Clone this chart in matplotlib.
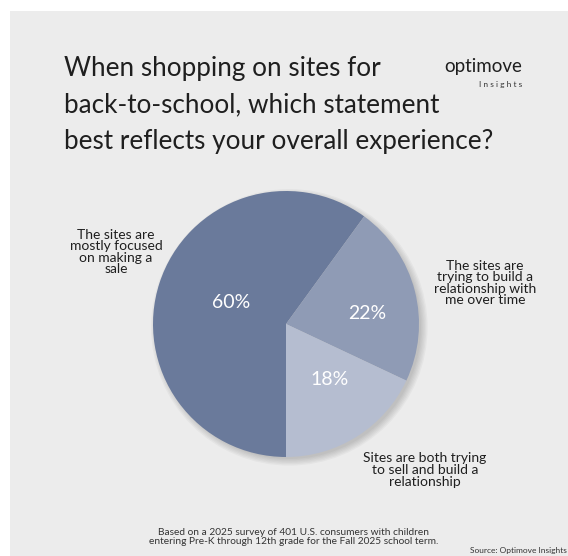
import matplotlib
matplotlib.use("Agg")
import matplotlib.pyplot as plt
from matplotlib.patches import Rectangle, Circle

plt.rcParams["font.family"] = ["Lato", "DejaVu Sans"]

W, H = 568, 556

# survey shares, drawn clockwise from the bottom
labels = ["The sites are\nmostly focused\non making a\nsale",
          "The sites are\ntrying to build a\nrelationship with\nme over time",
          "Sites are both trying\nto sell and build a\nrelationship"]
shares = [60, 22, 18]
colors = ["#6a7a9b", "#8f9bb5", "#b5bdd0"]

TITLE_LINES = ["When shopping on sites for",
               "back-to-school, which statement",
               "best reflects your overall experience?"]
NOTE = ("Based on a 2025 survey of 401 U.S. consumers with children\n"
        "entering Pre-K through 12th grade for the Fall 2025 school term.")
SOURCE = "Source: Optimove Insights"

BG = "#ececec"
INK = "#1f1f1f"


def fx(x):
    return x / W


def fy(y):
    return 1 - y / H


fig = plt.figure(figsize=(W / 100, H / 100), dpi=100)
fig.patch.set_facecolor("white")
fig.add_artist(Rectangle((fx(10), 0), 1, fy(11), transform=fig.transFigure,
                         facecolor=BG, edgecolor="none", zorder=0))

# pie centre (286, 324) px, radius 133 px
cx, cy, r = 286, 324, 133
ax = fig.add_axes([fx(cx - r), fy(cy + r), 2 * r / W, 2 * r / H])
ax.set_xlim(-1, 1)
ax.set_ylim(-1, 1)
ax.set_aspect("equal")
ax.axis("off")

# soft shadow, pushed a little to the lower right
for i in range(6):
    ax.add_patch(Circle((0.025, -0.025), 0.99 + 0.01 * i, facecolor="#000000",
                        alpha=0.03, edgecolor="none", zorder=0, clip_on=False))

wedges, _ = ax.pie(shares, colors=colors, startangle=-90, counterclock=False,
                   radius=1, wedgeprops=dict(linewidth=0), frame=False)
for w in wedges:
    w.set_zorder(2)
ax.set_xlim(-1, 1)
ax.set_ylim(-1, 1)

pct_pos = [(-0.41, 0.16), (0.61, 0.08), (0.33, -0.42)]
for v, (px, py) in zip(shares, pct_pos):
    ax.text(px, py, f"{v}%", color="white", fontsize=14,
            ha="center", va="center", zorder=3)

label_pos = [(116, 252), (485, 283), (425, 470)]
for lab, (lx, ly) in zip(labels, label_pos):
    fig.text(fx(lx), fy(ly), lab, ha="center", va="center", fontsize=10,
             color=INK, linespacing=0.96)

# title, one line per text so the lines keep their own extents
for i, line in enumerate(TITLE_LINES):
    fig.text(fx(64), fy(76 + 36.5 * i), line, ha="left", va="baseline",
             fontsize=18.8, color=INK)

# brand mark
fig.text(fx(483), fy(72), "optimove", ha="center", va="baseline", fontsize=13.5,
         color=INK)
fig.text(fx(522), fy(87), " ".join("Insights"), ha="right", va="baseline",
         fontsize=6, color="#333333")

fig.text(fx(294), fy(537), NOTE, ha="center", va="center", fontsize=7.3,
         color="#333333", linespacing=1.1)
fig.text(fx(567), fy(550), SOURCE, ha="right", va="center", fontsize=6.0,
         color="#333333")

fig.savefig("out.png", dpi=100, facecolor=fig.get_facecolor())
